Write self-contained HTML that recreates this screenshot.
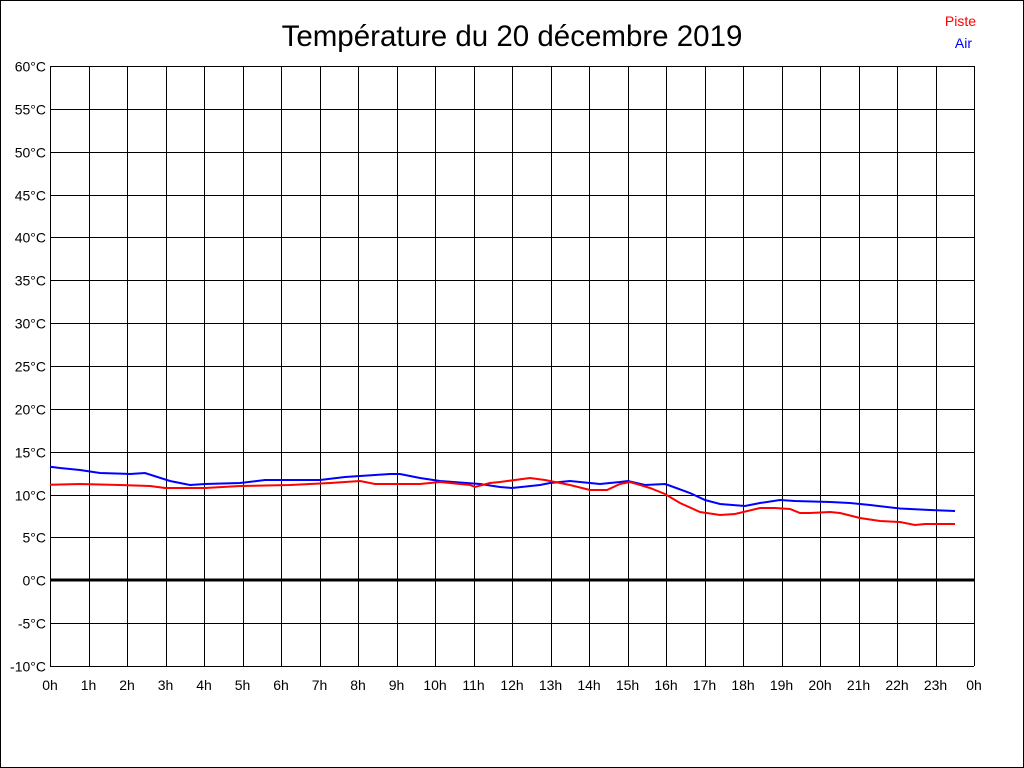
<!DOCTYPE html>
<html><head><meta charset="utf-8"><style>
html,body{margin:0;padding:0;background:#fff;}
svg{display:block;font-family:"Liberation Sans",sans-serif;}
</style></head><body>
<svg width="1024" height="768" viewBox="0 0 1024 768" xmlns="http://www.w3.org/2000/svg">
<rect x="0.5" y="0.5" width="1023" height="767" fill="#fff" stroke="#000" stroke-width="1"/>
<text x="512" y="46" text-anchor="middle" font-size="29.5">Température du 20 décembre 2019</text>
<text x="976" y="26" text-anchor="end" font-size="14" fill="#f00">Piste</text>
<text x="972" y="48" text-anchor="end" font-size="14" fill="#00f">Air</text>
<g id="grid" stroke="#000" stroke-width="1" shape-rendering="crispEdges"></g>
<line x1="50" y1="580" x2="974" y2="580" stroke="#000" stroke-width="3"/>
<g id="labels" font-size="14" fill="#000"></g>
<polyline fill="none" stroke="#00f" stroke-width="2" points="50,466.7 60,468 80,470 100,473 130,474 145,473 170,481 190,485 205,484 240,483 265,480 320,480 345,477 375,475 390,474 400,474 420,478 440,481 480,484 500,487 512,488 540,485 550,483 570,481 600,484 620,482 628,481 645,485 665,484 668,485 690,493 705,500 720,504 745,506 760,503 780,500 795,501 830,502 850,503 870,505 900,508.5 930,510 955,511"/>
<polyline fill="none" stroke="#f00" stroke-width="2" points="50,484.7 80,484 120,485 150,486 165,488 205,488 240,486 290,485 330,483 360,481 375,484 420,484 440,482 470,485 475,487 490,483 500,482 530,478 545,480 570,485 590,490 607,490 620,484 630,482 650,488 665,494 680,503 700,512 720,515 735,514 760,508 775,508 790,509 800,513 810,513 830,512 840,513 860,518 880,521 900,522 915,525 925,524 935,524 955,524"/>
<script>
var ns="http://www.w3.org/2000/svg",g=document.getElementById("grid"),l=document.getElementById("labels");
function el(p,t,a,txt){var e=document.createElementNS(ns,t);for(var k in a)e.setAttribute(k,a[k]);if(txt!==undefined)e.textContent=txt;p.appendChild(e);}
for(var i=0;i<=24;i++){var x=Math.round(50+38.5*i)+0.5;el(g,"line",{x1:x,y1:66,x2:x,y2:666});
el(l,"text",{x:50+38.5*i,y:690,"text-anchor":"middle"},(i%24)+"h");}
for(var j=0;j<=14;j++){var v=60-5*j,y=Math.round(66+600*j/14)+0.5;el(g,"line",{x1:50,y1:y,x2:974,y2:y});
el(l,"text",{x:46,y:y+5,"text-anchor":"end"},v+"°C");}
</script>
</svg>
</body></html>
